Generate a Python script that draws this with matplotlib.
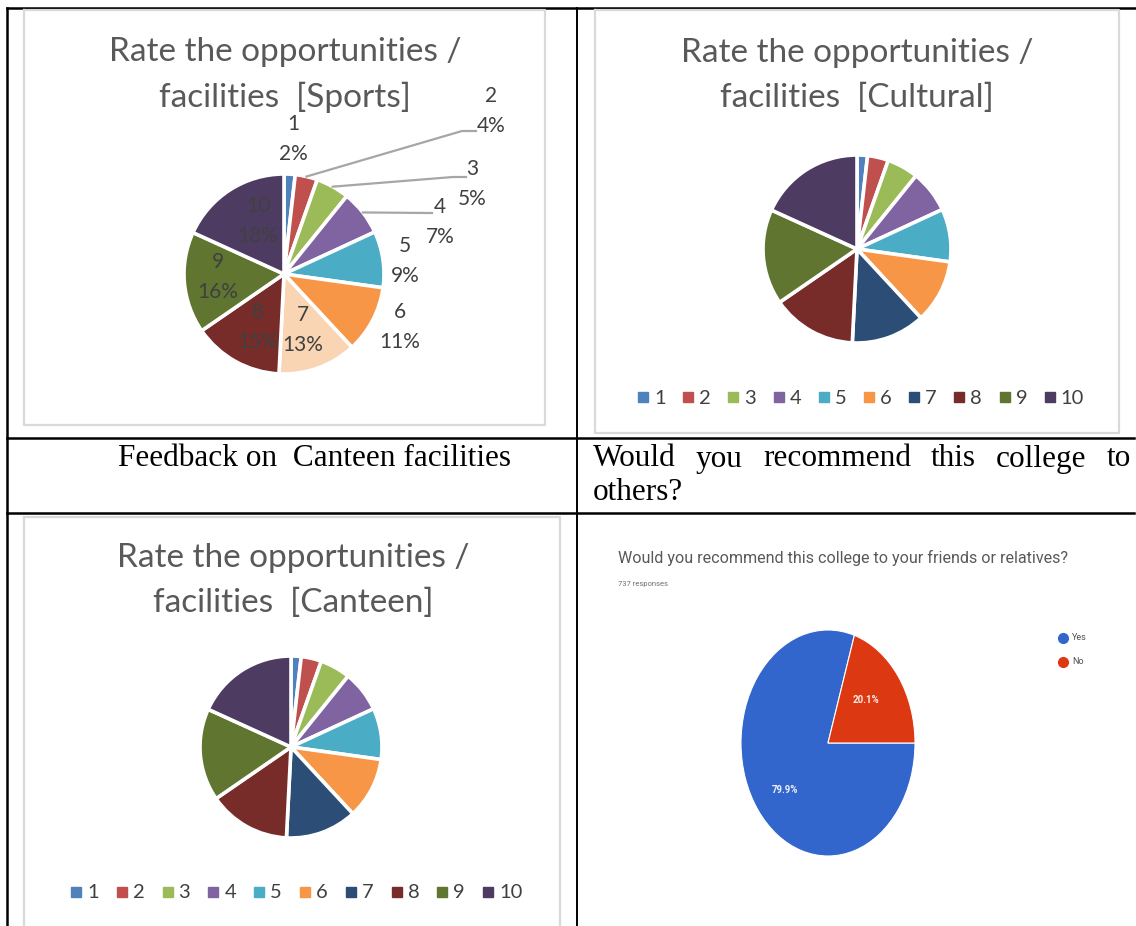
import matplotlib
matplotlib.use("Agg")
import matplotlib.pyplot as plt
import numpy as np

# ---------------- data ----------------
ratings = ["1", "2", "3", "4", "5", "6", "7", "8", "9", "10"]
sports_pct = [1.8, 3.6, 5.4, 7.3, 9.1, 10.9, 12.7, 14.6, 16.4, 18.2]
cultural_pct = [1.8, 3.6, 5.4, 7.3, 9.1, 10.9, 12.7, 14.6, 16.4, 18.2]
canteen_pct = [1.8, 3.6, 5.4, 7.3, 9.1, 10.9, 12.7, 14.6, 16.4, 18.2]
rec_labels = ["Yes", "No"]
rec_pct = [79.9, 20.1]
rec_responses = 737

title_line1 = "Rate the opportunities /"
title_sports = "facilities  [Sports]"
title_cultural = "facilities  [Cultural]"
title_canteen = "facilities  [Canteen]"
rec_title = "Would you recommend this college to your friends or relatives?"
row_left = "Feedback on  Canteen facilities"
row_right_1 = "Would you recommend this college to"
row_right_2 = "others?"

# ---------------- styles ----------------
excel_colors = ["#4F81BD", "#C0504D", "#9BBB59", "#8064A2", "#4BACC6",
                "#F79646", "#2C4D75", "#772C2A", "#5F7530", "#4D3B62"]
sports_colors = list(excel_colors)
sports_colors[6] = "#FAD5B4"
google_colors = ["#3366CC", "#DC3912"]
TXT = "#404040"
TITLE = "#595959"
SANS = ["Lato", "DejaVu Sans"]
SERIF = ["Liberation Serif", "DejaVu Serif"]
GFONT = ["Roboto", "DejaVu Sans"]

W, H = 1136, 926
fig = plt.figure(figsize=(W / 100, H / 100), dpi=100)
fig.patch.set_facecolor("white")


def fx(px):
    return px / W


def fy(py):
    return 1 - py / H


def pixel_axes(z):
    a = fig.add_axes([0, 0, 1, 1], zorder=z)
    a.set_xlim(0, W)
    a.set_ylim(H, 0)
    a.axis("off")
    a.patch.set_alpha(0)
    return a


bg = pixel_axes(0)

# table lines
lw_t = 1.8
bg.plot([7, W], [8, 8], color="black", lw=lw_t)
bg.plot([7, 7], [8, H], color="black", lw=lw_t)
bg.plot([577, 577], [8, H], color="black", lw=1.4)
bg.plot([7, 1134], [438, 438], color="black", lw=lw_t)
bg.plot([7, 1134], [513, 513], color="black", lw=lw_t)

# chart boxes (Excel chart area borders)
box_c = "#D9D9D9"
for (x0, y0, x1, y1) in [(24, 10, 545, 425), (595, 10, 1119, 433), (24, 517, 560, H + 5)]:
    bg.plot([x0, x1, x1, x0, x0], [y0, y0, y1, y1, y0], color=box_c, lw=1.6)

# titles
for cx, ty, t2 in [(285, 52, title_sports), (857, 53, title_cultural), (293, 558, title_canteen)]:
    bg.text(cx, ty, title_line1, ha="center", va="center", fontsize=24, color=TITLE, family=SANS)
    bg.text(cx, ty + 45, t2, ha="center", va="center", fontsize=24, color=TITLE, family=SANS)

# row texts
SER_FS = 22.5
bg.text(118, 459, row_left, ha="left", va="center", fontsize=SER_FS, family=SERIF, color="black")
# justified first line of right cell
fig.canvas.draw()
renderer = fig.canvas.get_renderer()
words = row_right_1.split()
tmp = [bg.text(0, 0, w_, fontsize=SER_FS, family=SERIF) for w_ in words]
widths = [t.get_window_extent(renderer).width for t in tmp]
for t in tmp:
    t.remove()
x_left, x_right = 593, 1131
gap = (x_right - x_left - sum(widths)) / (len(words) - 1)
xx = x_left
for w_, wd in zip(words, widths):
    bg.text(xx, 459, w_, ha="left", va="center", fontsize=SER_FS, family=SERIF, color="black")
    xx += wd + gap
bg.text(593, 492, row_right_2, ha="left", va="center", fontsize=SER_FS, family=SERIF, color="black")


def draw_excel_pie(cx, cy, r, vals, colors):
    s = r * 1.05
    ax = fig.add_axes([fx(cx - s), fy(cy + s), (2 * s) / W, (2 * s) / H], zorder=2)
    wedges, _ = ax.pie(vals, colors=colors, startangle=90, counterclock=False,
                       radius=1.0, wedgeprops=dict(edgecolor="white", linewidth=2.6))
    ax.set_xlim(-s / r, s / r)
    ax.set_ylim(-s / r, s / r)
    ax.set_aspect("equal")
    ax.axis("off")
    return ax, wedges


# ---------------- Sports pie ----------------
scx, scy, sr = 284, 274, 100
ax_s, w_s = draw_excel_pie(scx, scy, sr, sports_pct, sports_colors)

# ---------------- Cultural pie ----------------
draw_excel_pie(857, 249, 94, cultural_pct, excel_colors)

# ---------------- Canteen pie ----------------
draw_excel_pie(291, 747, 91, canteen_pct, excel_colors)

# ---------------- Google Forms pie ----------------
gcx, gcy, grx, gry = 828, 743, 87, 113
axg = fig.add_axes([fx(gcx - grx), fy(gcy + gry), 2 * grx / W, 2 * gry / H], zorder=2)
wg, _ = axg.pie(rec_pct, colors=google_colors, startangle=0, counterclock=False,
                radius=1.0, wedgeprops=dict(edgecolor="white", linewidth=0.8))
axg.set_aspect("auto")
axg.set_xlim(-1, 1)
axg.set_ylim(-1, 1)
axg.axis("off")

# ---------------- overlay (labels on top of pies) ----------------
top = pixel_axes(10)

sp_label_pos = [(293, 139), (491, 111), (472, 184), (440, 222), (405, 261),
                (400, 327), (303, 330), (258, 327), (218, 277), (258, 221)]
total = sum(sports_pct)
for i, (lab, v) in enumerate(zip(ratings, sports_pct)):
    px, py = sp_label_pos[i]
    top.text(px, py - 15, lab, ha="center", va="center", fontsize=15, color=TXT, family=SANS)
    top.text(px, py + 15, f"{v / total * 100:.0f}%", ha="center", va="center",
             fontsize=15, color=TXT, family=SANS)
leaders = {1: [(462, 131), (476, 131)], 2: [(453, 177), (466, 177)], 3: [(430, 213), (432, 213)]}
for i, pts in leaders.items():
    w = w_s[i]
    ang = np.deg2rad((w.theta1 + w.theta2) / 2)
    x0 = scx + sr * np.cos(ang)
    y0 = scy - sr * np.sin(ang)
    top.plot([x0] + [p[0] for p in pts], [y0] + [p[1] for p in pts],
             color="#A6A6A6", lw=1.6)


def excel_legend(x0, y, step):
    x = x0
    for lab, c in zip(ratings, excel_colors):
        top.plot([x], [y], marker="s", ms=6.5, color=c, mec=c, ls="none")
        top.text(x + 11, y + 1, lab, ha="left", va="center", fontsize=14.5, color=TXT, family=SANS)
        x += step


excel_legend(643, 397, 45.2)
excel_legend(76, 892, 45.8)

rec_label_pos = [(785, 790), (866, 700)]
for (px, py), v in zip(rec_label_pos, rec_pct):
    top.text(px, py, f"{v:.1f}%", ha="center", va="center", fontsize=7, color="white",
             family=GFONT, fontweight="bold", alpha=0.9)

top.text(618, 558, rec_title, ha="left", va="center", fontsize=11.6, color="#3C3C3C",
         family=GFONT, alpha=0.85)
top.text(618, 584, f"{rec_responses} responses", ha="left", va="center", fontsize=5.5,
         color="#707070", family=GFONT)
for k, (lab, c) in enumerate(zip(rec_labels, google_colors)):
    yy = 638 + k * 24
    top.plot([1063], [yy], marker="o", ms=7, color=c, mec=c, ls="none")
    top.text(1072, yy, lab, ha="left", va="center", fontsize=6.5, color="#505050", family=GFONT)

fig.savefig("out.png", dpi=100, facecolor="white")
